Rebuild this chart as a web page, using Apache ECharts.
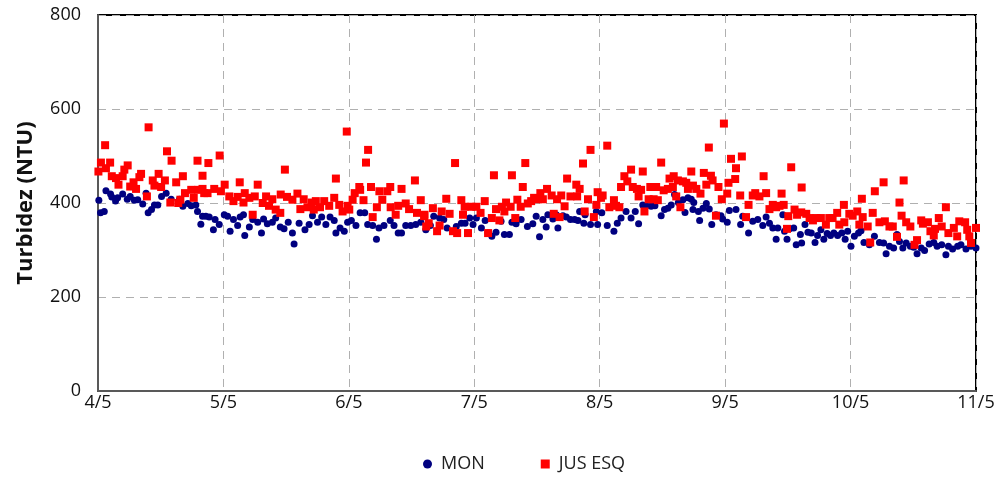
<!DOCTYPE html>
<html lang="pt">
<head>
    <meta charset="UTF-8">
    <title>Turbidez</title>
    <script src="https://cdn.jsdelivr.net/npm/echarts@6/dist/echarts.min.js"></script>
</head>
<body style="margin:0">
    <div id="main" style="width: 1005px;height:480px;"></div>

    <script type="text/javascript">

        // x = posição no eixo (30 unidades por mês), y = turbidez (NTU)
        var tickLabels = ['4/5', '5/5', '6/5', '7/5', '8/5', '9/5', '10/5', '11/5']

        var monPts = [
            [0.2,406],[0.6,379],[1.5,382],[1.9,426],[3.0,419],[3.3,413],[4.2,404],[4.7,411],[5.9,419],[7.0,408],
            [7.7,414],[8.7,406],[9.5,407],[10.7,398],[11.5,421],[12.0,379],[12.8,386],[13.5,396],[14.3,396],[15.2,414],
            [16.3,421],[17.5,408],[19.5,408],[20.3,393],[21.5,399],[22.3,394],[23.4,396],[23.8,382],[25.0,372],[24.6,355],
            [25.8,372],[26.6,370],[27.6,343],[28.0,365],[29.0,354],[30.2,375],[31.0,372],[31.6,340],[32.4,365],[33.4,352],
            [34.0,370],[34.8,375],[35.1,331],[36.2,349],[37.0,365],[38.2,359],[39.1,336],[39.6,366],[40.5,356],[41.7,359],
            [42.5,368],[43.6,349],[44.5,345],[45.5,359],[46.5,336],[46.9,313],[48.1,357],[49.5,343],[50.5,354],[51.3,373],
            [52.5,359],[53.5,370],[54.5,354],[55.5,370],[56.5,363],[56.9,336],[57.9,347],[58.9,340],[59.7,359],[60.6,363],
            [61.7,352],[62.7,379],[63.8,379],[64.5,354],[65.7,352],[66.6,323],[67.2,347],[68.4,352],[69.9,363],[70.8,352],
            [71.8,336],[72.6,336],[73.6,352],[74.8,352],[76.0,354],[77.2,359],[78.4,343],[79.5,352],[80.3,372],[81.7,368],
            [82.7,365],[83.5,347],[84.9,340],[85.7,350],[86.9,357],[87.8,357],[88.9,368],[89.7,354],[90.5,368],[91.7,347],
            [92.6,363],[93.3,336],[94.2,329],[95.2,338],[96.4,361],[97.2,333],[98.4,333],[99.0,359],[100.0,356],[101.2,365],
            [102.7,350],[104.0,356],[104.8,372],[105.6,328],[106.4,365],[107.2,349],[107.6,375],[108.8,366],[109.6,375],[110.0,347],
            [111.2,373],[112.0,370],[113.0,365],[114.0,365],[114.8,363],[115.2,382],[116.2,357],[116.5,375],[117.8,354],[119.2,382],
            [119.5,354],[120.5,379],[121.8,352],[123.4,340],[124.2,357],[125.1,368],[126.3,382],[127.5,368],[128.5,382],[129.3,356],
            [130.3,396],[131.1,394],[132.3,393],[133.2,394],[134.7,373],[135.5,386],[136.3,389],[137.1,396],[137.9,418],[138.8,401],
            [139.9,407],[140.4,380],[141.1,411],[141.9,408],[142.5,401],[142.3,386],[143.6,382],[143.9,363],[144.7,389],[145.5,399],
            [146.2,387],[146.8,354],[147.8,375],[149.0,373],[149.4,366],[150.5,359],[151.0,384],[152.6,386],[153.7,354],[154.2,372],
            [155.6,336],[156.6,361],[157.8,365],[159.0,352],[159.8,370],[160.6,357],[161.4,347],[162.2,323],[162.6,347],[163.8,375],
            [164.2,340],[164.8,323],[165.4,345],[166.4,347],[167.0,311],[168.0,333],[168.3,315],[169.1,354],[169.8,338],[170.6,336],
            [171.5,316],[172.1,331],[172.9,343],[173.6,323],[174.4,335],[175.2,331],[176.0,336],[176.9,331],[177.9,336],[178.7,323],
            [179.3,340],[180.1,308],[180.9,329],[181.9,336],[182.5,341],[183.2,316],[184.5,311],[185.7,329],[186.9,316],[187.9,315],
            [188.5,292],[189.3,308],[190.3,304],[191.1,333],[191.7,318],[192.5,304],[193.3,315],[194.3,308],[195.1,306],[195.9,292],
            [196.9,304],[197.7,299],[198.8,313],[199.9,316],[200.7,308],[201.8,311],[202.8,290],[203.4,308],[204.4,302],[205.6,308],
            [206.4,311],[207.6,302],[208.8,308],[210.0,304]
        ]

        var jusPts = [
            [0.1,467],[0.7,486],[1.7,523],[1.9,474],[2.9,486],[3.3,457],[4.3,453],[4.9,439],[5.9,457],[6.3,471],
            [7.1,480],[7.7,435],[8.5,444],[9.1,430],[9.9,455],[10.3,462],[11.7,414],[12.1,561],[13.1,448],[13.5,437],
            [14.5,462],[15.1,434],[16.0,448],[16.5,510],[17.6,490],[17.3,401],[18.7,444],[19.2,400],[19.7,407],[20.3,457],
            [20.8,421],[22.3,428],[22.9,411],[23.8,490],[24.0,428],[25.0,458],[25.4,421],[26.4,485],[29.1,501],[25.0,430],
            [26.2,421],[27.8,430],[29.4,425],[30.3,439],[31.4,414],[32.4,404],[33.4,413],[33.9,444],[34.8,401],[35.1,421],
            [36.2,411],[37.0,375],[37.5,414],[38.2,439],[39.4,400],[40.2,414],[40.9,394],[41.7,408],[42.5,386],[43.6,379],
            [43.7,418],[44.7,471],[45.2,413],[46.5,407],[47.7,420],[48.4,387],[49.2,408],[50.1,391],[51.1,401],[51.6,386],
            [52.1,404],[53.1,391],[54.1,404],[55.3,394],[56.5,411],[56.9,452],[57.7,396],[58.5,382],[59.5,552],[59.7,394],
            [60.1,386],[60.9,407],[61.4,421],[62.5,434],[62.7,428],[63.5,406],[64.1,486],[64.6,513],[65.3,434],[65.7,370],
            [66.7,391],[67.3,425],[68.0,407],[69.2,425],[69.9,434],[70.0,391],[71.2,375],[71.8,394],[72.6,430],[73.6,399],
            [74.4,387],[75.8,448],[76.3,379],[77.2,406],[78.0,372],[78.1,375],[78.5,350],[79.1,357],[80.1,389],[81.1,340],
            [81.7,352],[82.2,382],[83.3,409],[84.1,377],[84.9,340],[85.4,485],[85.9,336],[86.9,406],[87.3,375],[87.7,392],
            [88.5,336],[89.3,392],[90.5,392],[91.5,379],[92.5,404],[93.3,336],[94.2,368],[94.7,459],[95.2,387],[96.0,363],
            [96.6,392],[97.2,382],[97.6,401],[98.7,392],[99.0,459],[99.8,368],[100.3,407],[101.1,392],[101.6,434],[102.2,485],
            [102.8,399],[103.6,404],[104.3,411],[105.2,408],[105.8,421],[106.4,408],[107.4,430],[108.5,416],[109.0,377],[109.8,408],
            [110.4,370],[110.8,416],[111.6,393],[112.2,452],[113.0,414],[114.4,439],[114.6,414],[115.2,430],[116.0,484],[116.4,382],
            [117.2,408],[117.8,513],[118.6,370],[119.2,396],[119.5,423],[120.3,411],[120.7,416],[121.8,522],[122.3,391],[123.4,406],
            [123.9,394],[124.7,391],[125.1,434],[125.9,457],[126.6,446],[127.5,471],[127.9,434],[128.9,430],[129.3,414],[130.3,467],
            [130.7,382],[129.9,428],[131.7,408],[132.1,434],[132.9,408],[133.5,434],[133.9,406],[134.7,486],[135.3,427],[136.3,430],
            [136.7,452],[137.5,434],[137.7,457],[138.3,414],[138.7,448],[139.3,391],[139.9,446],[140.7,443],[141.1,430],[141.9,467],
            [142.3,437],[143.1,430],[144.1,420],[144.9,464],[145.5,439],[146.1,518],[146.6,458],[147.0,448],[147.8,373],[148.4,434],
            [149.2,408],[149.7,569],[150.5,420],[150.8,443],[151.4,494],[152.4,451],[152.6,474],[153.6,416],[154.0,499],[155.0,370],
            [155.6,396],[156.6,416],[157.2,421],[158.2,414],[159.2,457],[159.8,421],[160.6,387],[161.4,396],[162.2,391],[163.0,394],
            [163.5,420],[164.0,396],[164.8,345],[165.1,372],[165.8,476],[166.6,386],[167.2,375],[168.2,380],[168.3,433],[169.4,377],
            [170.2,368],[171.0,363],[171.8,368],[172.9,368],[174.1,354],[174.9,368],[175.7,368],[176.8,379],[177.3,354],[178.4,396],
            [178.5,359],[179.7,377],[180.5,373],[181.6,382],[182.1,354],[182.7,409],[182.9,370],[184.1,350],[184.7,316],[185.3,379],
            [185.8,425],[186.9,359],[187.9,444],[188.2,361],[189.3,350],[190.1,350],[191.1,328],[191.7,401],[192.2,373],[192.7,448],
            [193.3,359],[194.3,350],[195.3,311],[195.9,321],[196.9,363],[197.3,356],[198.5,359],[199.1,340],[199.9,331],[200.2,345],
            [201.1,368],[201.8,350],[202.8,391],[203.4,336],[204.7,347],[205.5,329],[206.0,361],[207.4,359],[207.9,343],[208.4,329],
            [208.8,315],[210.0,347]
        ]

        var myChart = echarts.init(document.getElementById('main'));

        var font = 'Open Sans, Liberation Sans, sans-serif'

        var option = {
            animation: false,
            backgroundColor: '#fff',
            grid: {
                left: 98,
                right: 29,
                top: 15,
                bottom: 89,
                show: true,
                borderColor: '#000',
                borderWidth: 2
            },
            legend: {
                top: 450,
                left: 418,
                itemGap: 56,
                itemWidth: 9,
                itemHeight: 9,
                textStyle: { fontFamily: font, fontSize: 18, color: '#222', padding: [0, 0, 0, 4] },
                data: [
                    { name: 'MON', icon: 'circle', itemStyle: { color: '#000080' } },
                    { name: 'JUS ESQ', icon: 'rect', itemStyle: { color: '#ff0000' } }
                ]
            },
            xAxis: {
                type: 'value',
                min: 0,
                max: 210,
                interval: 30,
                axisLine: { lineStyle: { color: '#595959', width: 2 } },
                axisTick: { show: false },
                axisLabel: {
                    margin: 3,
                    fontFamily: font,
                    fontSize: 18,
                    color: '#111',
                    formatter: function (v) { return tickLabels[Math.round(v / 30)] }
                },
                splitLine: {
                    show: true,
                    lineStyle: { color: '#b0b0b0', type: [8, 6], width: 1 }
                }
            },
            yAxis: {
                type: 'value',
                min: 0,
                max: 800,
                interval: 200,
                name: 'Turbidez (NTU)',
                nameLocation: 'middle',
                nameGap: 61,
                nameTextStyle: { fontFamily: font, fontSize: 22, fontWeight: 'bold', color: '#111' },
                axisLine: { show: true, lineStyle: { color: '#595959', width: 2 } },
                axisTick: { show: false },
                axisLabel: { margin: 17, fontFamily: font, fontSize: 18, color: '#111' },
                splitLine: {
                    show: true,
                    lineStyle: { color: '#b0b0b0', type: [8, 6], width: 1 }
                }
            },
            series: [
                {
                    name: 'MON',
                    type: 'scatter',
                    symbol: 'circle',
                    symbolSize: 7,
                    itemStyle: { color: '#000080', opacity: 1 },
                    data: monPts
                },
                {
                    name: 'JUS ESQ',
                    type: 'scatter',
                    symbol: 'rect',
                    symbolSize: 8,
                    itemStyle: { color: '#ff0000', opacity: 1 },
                    data: jusPts
                }
            ]
        };
        myChart.setOption(option);
    </script>
</body>
</html>
